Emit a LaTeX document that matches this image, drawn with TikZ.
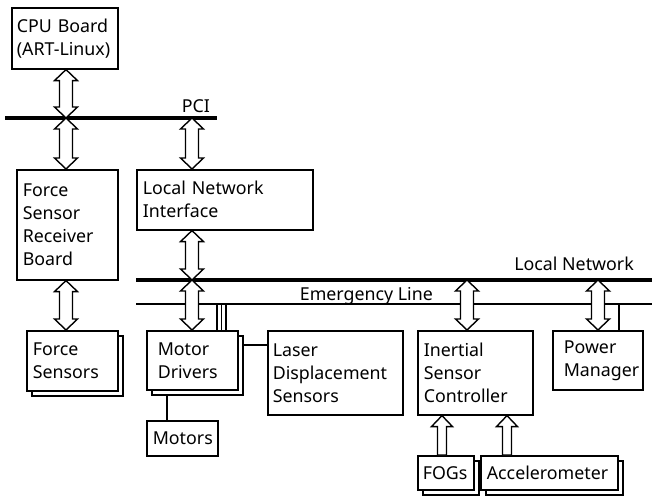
\documentclass[tikz,border=0pt]{standalone}
\usepackage{fontspec}
\setmainfont{Noto Sans}
\usetikzlibrary{shadows,calc}
\tikzset{
  txt/.style={font=\fontsize{17.8}{23}\selectfont},
  box/.style={txt, draw, line width=1.6pt, fill=white, anchor=north west, align=left, inner ysep=0pt},
  stack/.style={box, general shadow={shadow xshift=5pt, shadow yshift=-5pt, draw=black, fill=white, line width=1.6pt}},
  bus/.style={line width=4pt},
  wire/.style={line width=1.6pt},
  lbl/.style={txt, inner sep=0pt, anchor=base east},
  fat/.style={draw, line width=1.4pt, fill=white, line join=miter},
}
\newcommand\dblarr[2]{\path[fat] let \p1=(#1), \p2=(#2) in
  (\x1,\y1) -- (\x1+11.5pt,\y1-11pt) -- (\x1+6.5pt,\y1-11pt) -- (\x1+6.5pt,\y2+11pt)
  -- (\x1+11.5pt,\y2+11pt) -- (\x1,\y2) -- (\x1-11.5pt,\y2+11pt) -- (\x1-6.5pt,\y2+11pt)
  -- (\x1-6.5pt,\y1-11pt) -- (\x1-11.5pt,\y1-11pt) -- cycle;}
\newcommand\uparr[2]{\path[fat] let \p1=(#1), \p2=(#2) in
  (\x1,\y1) -- (\x1+10.5pt,\y1-11pt) -- (\x1+4.5pt,\y1-11pt) -- (\x1+4.5pt,\y2)
  -- (\x1-4.5pt,\y2) -- (\x1-4.5pt,\y1-11pt) -- (\x1-10.5pt,\y1-11pt) -- cycle;}
\begin{document}
\begin{tikzpicture}[x=1pt,y=-1pt]
\useasboundingbox (0,0) rectangle (653,498);
% buses
\coordinate (pciL) at (5,118); \coordinate (pciR) at (217,118);
\coordinate (lnL) at (136,280); \coordinate (lnR) at (652,280);
\coordinate (emL) at (136,304); \coordinate (emR) at (652,304);
\draw[bus] (pciL) -- (pciR);
\draw[bus] (lnL) -- (lnR);
\draw[wire] (emL) -- (emR);
\node[lbl] (pcil) at (210,112) {PCI};
\node[lbl] (lnl) at (634,270) {Local Network};
\node[lbl] (eml) at (433,300) {Emergency Line};
% boxes
\node[box, minimum width=106pt, minimum height=61pt, text width=96pt, inner xsep=5pt] (cpu) at (11,7) {CPU Board\\(ART-Linux)};
\node[box, minimum width=101pt, minimum height=110pt, text width=89pt, inner xsep=6pt] (fsrb) at (16,169) {Force\\Sensor\\Receiver\\Board};
\node[box, minimum width=176pt, minimum height=60pt, text width=164pt, inner xsep=6pt] (lni) at (136,169) {Local Network\\Interface};
\node[stack, minimum width=91pt, minimum height=60pt, text width=79pt, inner xsep=6pt] (fs) at (26,330) {Force\\Sensors};
\node[stack, minimum width=91pt, minimum height=59pt, text width=69pt, inner xsep=11pt] (md) at (146,330) {Motor\\Drivers};
\node[box, minimum width=135pt, minimum height=84pt, text width=125pt, inner xsep=5pt] (laser) at (267,330) {Laser\\Displacement\\Sensors};
\node[box, minimum width=71pt, minimum height=35pt, text width=59pt, inner xsep=6pt] (motors) at (146,420) {Motors};
\node[box, minimum width=115pt, minimum height=84pt, text width=103pt, inner xsep=6pt] (isc) at (417,330) {Inertial\\Sensor\\Controller};
\node[box, minimum width=90pt, minimum height=59pt, text width=68pt, inner xsep=11pt] (pm) at (552,330) {Power\\Manager};
\node[stack, minimum width=56pt, minimum height=34pt, text width=46pt, inner xsep=5pt] (fogs) at (417,455) {FOGs};
\node[stack, minimum width=137pt, minimum height=34pt, text width=125pt, inner xsep=6pt] (acc) at (480,455) {Accelerometer};
% taps
\coordinate (p1) at (66,118); \coordinate (p2) at (192,118);
\coordinate (n1) at (192,280); \coordinate (n2) at (467,280); \coordinate (n3) at (598,280);
\coordinate (f1) at (442,440); \coordinate (f2) at (507,440);
\coordinate (e1) at (217,304); \coordinate (e2) at (221.5,304); \coordinate (e3) at (226,304);
\coordinate (emp) at (619,304);
\coordinate (mdl) at (242,345); \coordinate (mdm) at (167,395);
% wires
\draw[line width=1.2pt] (e1) -- (e1 |- md.north);
\draw[line width=1.2pt] (e2) -- (e2 |- md.north);
\draw[line width=1.2pt] (e3) -- (e3 |- md.north);
\draw[wire] (emp) -- (emp |- pm.north);
\draw[wire] (mdl) -- (mdl -| laser.west);
\draw[wire] (mdm) -- (mdm |- motors.north);
% arrows
\dblarr{cpu.south -| p1}{p1}
\dblarr{p1}{fsrb.north -| p1}
\dblarr{p2}{lni.north -| p2}
\dblarr{lni.south -| n1}{n1}
\dblarr{n1}{md.north -| n1}
\dblarr{fsrb.south -| p1}{fs.north -| p1}
\dblarr{n2}{isc.north -| n2}
\dblarr{n3}{pm.north -| n3}
\uparr{isc.south -| f1}{fogs.north -| f1}
\uparr{isc.south -| f2}{acc.north -| f2}
\end{tikzpicture}
\end{document}
